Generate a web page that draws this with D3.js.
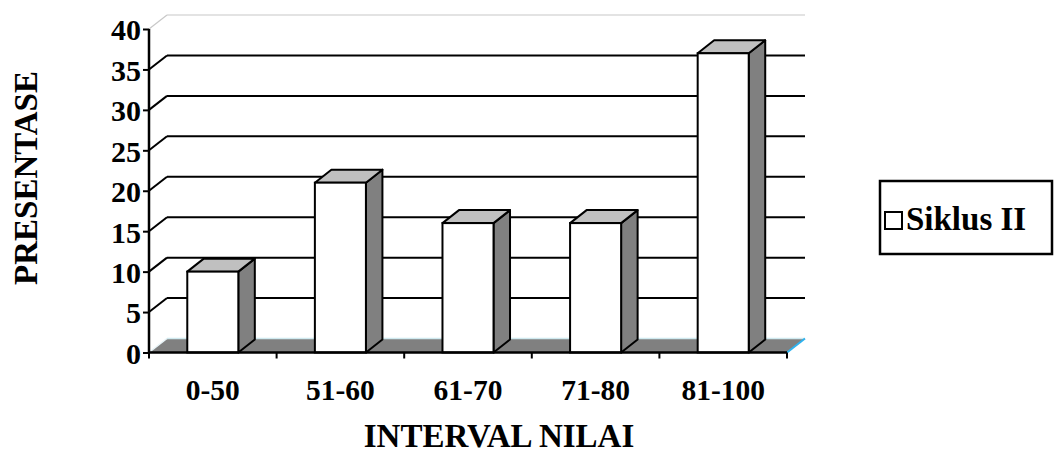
<!DOCTYPE html>
<html>
<head>
<meta charset="utf-8">
<script src="https://cdn.jsdelivr.net/npm/d3@7"></script>
<style>
  html, body { margin: 0; padding: 0; background: #fff; }
  svg { display: block; }
  text { font-family: "Liberation Serif", "Times New Roman", serif; font-weight: bold; fill: #000; }
</style>
</head>
<body>
<svg id="chart" width="1058" height="453"></svg>
<script>
const categories = ["0-50", "51-60", "61-70", "71-80", "81-100"];
const seriesName = "Siklus II";
const values = [10, 21, 16, 16, 37];
const yTicks = [0, 5, 10, 15, 20, 25, 30, 35, 40];
const xTitle = "INTERVAL NILAI";
const yTitle = "PRESENTASE";

(function () {
const svg = d3.select("#chart");
const pLeft = 149, pRight = 787, pBottom = 352.5, pTop = 29;
const wallDx = 18, wallDy = 14;
const barDx = 16.5, barDy = 13;

const x = d3.scaleBand().domain(categories).range([pLeft, pRight]).paddingInner(0.6).paddingOuter(0.3);
const y = d3.scaleLinear().domain([0, 40]).range([pBottom, pTop]);
const pts = arr => arr.map(p => p.join(",")).join(" ");

// floor
const floorG = svg.append("g");
floorG.append("polygon")
  .attr("points", pts([[pLeft, pBottom], [pLeft + wallDx, pBottom - wallDy], [pRight + wallDx, pBottom - wallDy], [pRight, pBottom]]))
  .attr("fill", "#808080");
floorG.append("line").attr("x1", pLeft + wallDx).attr("x2", pRight + wallDx)
  .attr("y1", pBottom - wallDy).attr("y2", pBottom - wallDy)
  .attr("stroke", "#cfe9ef").attr("stroke-width", 1.5);
floorG.append("line").attr("x1", pLeft).attr("y1", pBottom).attr("x2", pLeft + wallDx).attr("y2", pBottom - wallDy)
  .attr("stroke", "#e8f4f8").attr("stroke-width", 1.5);
floorG.append("line").attr("x1", pRight).attr("y1", pBottom).attr("x2", pRight + wallDx).attr("y2", pBottom - wallDy)
  .attr("stroke", "#2fb2ee").attr("stroke-width", 2);

// gridlines (back wall + left wall)
const grid = svg.append("g");
yTicks.filter(t => t > 0).forEach(t => {
  const yy = y(t);
  const col = t === 40 ? "#c8c8c8" : "#000";
  const w = t === 40 ? 1.2 : 2;
  grid.append("line").attr("x1", pLeft + wallDx).attr("x2", pRight + wallDx)
    .attr("y1", yy - wallDy).attr("y2", yy - wallDy).attr("stroke", col).attr("stroke-width", w);
  grid.append("line").attr("x1", pLeft).attr("y1", yy).attr("x2", pLeft + wallDx).attr("y2", yy - wallDy)
    .attr("stroke", col).attr("stroke-width", w);
});

// bars
const bars = svg.append("g").selectAll("g").data(categories.map((c, i) => ({ c, v: values[i] }))).join("g");
bars.each(function (d) {
  const g = d3.select(this);
  const x0 = x(d.c), bw = x.bandwidth(), yv = y(d.v), y0 = y(0);
  g.append("polygon")
    .attr("points", pts([[x0 + bw, yv], [x0 + bw + barDx, yv - barDy], [x0 + bw + barDx, y0 - barDy], [x0 + bw, y0]]))
    .attr("fill", "#808080").attr("stroke", "#000").attr("stroke-width", 2).attr("stroke-linejoin", "round");
  g.append("polygon")
    .attr("points", pts([[x0, yv], [x0 + barDx, yv - barDy], [x0 + bw + barDx, yv - barDy], [x0 + bw, yv]]))
    .attr("fill", "#c0c0c0").attr("stroke", "#000").attr("stroke-width", 2).attr("stroke-linejoin", "round");
  g.append("rect").attr("x", x0).attr("y", yv).attr("width", bw).attr("height", y0 - yv)
    .attr("fill", "#fff").attr("stroke", "#000").attr("stroke-width", 2);
});

// y axis
const yAxis = d3.axisLeft(y).tickValues(yTicks).tickSize(6).tickPadding(2).tickFormat(d3.format("d"));
const yg = svg.append("g").attr("transform", `translate(${pLeft},0)`).call(yAxis);
yg.select(".domain").attr("stroke", "#000").attr("stroke-width", 2.5).attr("d", `M0,${pBottom}V${pTop}`);
yg.selectAll(".tick line").attr("stroke", "#000").attr("stroke-width", 2);
yg.selectAll(".tick text").attr("font-size", 30).attr("font-family", "Liberation Serif, serif").attr("font-weight", "bold").attr("dy", "0.36em");

// x axis
const xAxis = d3.axisBottom(x).tickSize(0).tickPadding(0);
const xg = svg.append("g").attr("transform", `translate(0,${pBottom})`).call(xAxis);
xg.select(".domain").attr("stroke", "#000").attr("stroke-width", 2.5).attr("d", `M${pLeft},0H${pRight}`);
xg.selectAll(".tick text").attr("font-size", 29.5).attr("font-family", "Liberation Serif, serif").attr("font-weight", "bold").attr("y", 47).attr("dy", 0);
const bounds = d3.range(categories.length + 1).map(i => pLeft + i * (pRight - pLeft) / categories.length);
xg.selectAll(".btick").data(bounds).join("line").attr("class", "btick")
  .attr("x1", d => d).attr("x2", d => d).attr("y1", 0).attr("y2", 6)
  .attr("stroke", "#000").attr("stroke-width", 2);

// titles
svg.append("text").attr("x", 499).attr("y", 447).attr("text-anchor", "middle").attr("font-size", 33).text(xTitle);
svg.append("text").attr("transform", "translate(37,178) rotate(-90)").attr("text-anchor", "middle").attr("font-size", 33).text(yTitle);

// legend
const lg = svg.append("g");
lg.append("rect").attr("x", 880).attr("y", 181).attr("width", 172).attr("height", 73)
  .attr("fill", "#fff").attr("stroke", "#000").attr("stroke-width", 2.5);
lg.append("rect").attr("x", 885).attr("y", 212).attr("width", 17).attr("height", 17)
  .attr("fill", "#fff").attr("stroke", "#000").attr("stroke-width", 2);
lg.append("text").attr("x", 906).attr("y", 230).attr("font-size", 33).text(seriesName);
})();
</script>
</body>
</html>
